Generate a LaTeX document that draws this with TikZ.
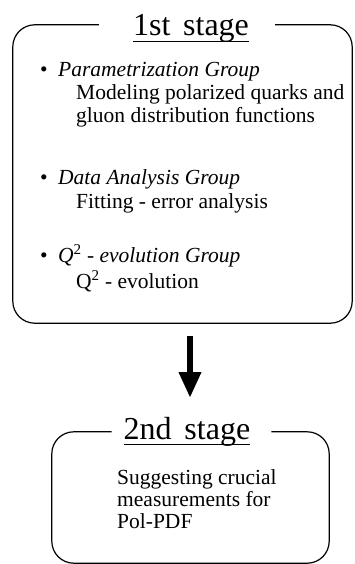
\documentclass[tikz,border=0pt]{standalone}
\usepackage{fontspec}
\setmainfont{Liberation Serif}
\usetikzlibrary{arrows.meta}
\begin{document}
\begin{tikzpicture}[x=1pt,y=-1pt,
  body/.style={anchor=base west, inner sep=0pt, font=\fontsize{21.5}{23}\selectfont},
  ttl/.style={anchor=base, inner sep=0pt, font=\fontsize{32}{36}\selectfont},
  frame/.style={line width=1.2pt, rounded corners=22pt},
  uline/.style={line width=1pt},
  bigarrow/.style={line width=6.5pt, -{Triangle[width=21pt,length=26pt]}}]
\useasboundingbox (0,0) rectangle (354,564);
% box outlines (invisible nodes)
\node[inner sep=0pt, minimum width=339pt, minimum height=298pt] (box1) at (182.5,174) {};
\node[inner sep=0pt, minimum width=277pt, minimum height=131pt] (box2) at (190.5,497.5) {};
% titles
\node[ttl] (t1) at (191,36) {1st\hspace{0.4em}stage};
\node[ttl] (t2) at (187,439) {2nd\hspace{0.4em}stage};
\draw[uline] ([yshift=-6pt]t1.base west) -- ([yshift=-6pt]t1.base east);
\draw[uline] ([yshift=-5pt]t2.base west) -- ([yshift=-5pt]t2.base east);
% frames with gaps for the titles
\draw[frame] ([xshift=-34pt]t1.west |- box1.north) -- (box1.north west) -- (box1.south west)
  -- (box1.south east) -- (box1.north east) -- ([xshift=26pt]t1.east |- box1.north);
\draw[frame] ([xshift=-12pt]t2.west |- box2.north) -- (box2.north west) -- (box2.south west)
  -- (box2.south east) -- (box2.north east) -- ([xshift=21pt]t2.east |- box2.north);
% first stage content
\node[body] (d1) at (40,77) {•};
\node[body] (g1) at (58,77) {\itshape Parametrization Group};
\node[body] (l1) at (76,100) {Modeling polarized quarks and};
\node[body] (l2) at (76,123) {gluon distribution functions};
\node[body] (d2) at (40,184) {•};
\node[body] (g2) at (58,184) {\itshape Data Analysis Group};
\node[body] (l3) at (76,208) {Fitting - error analysis};
\node[body] (d3) at (40,262) {•};
\node[body] (g3) at (58,262) {\itshape Q\textsuperscript{\upshape 2} - evolution Group};
\node[body] (l4) at (76,288) {Q\textsuperscript{2} - evolution};
% second stage content
\node[body] (s1) at (117,484) {Suggesting crucial};
\node[body] (s2) at (117,506) {measurements for};
\node[body] (s3) at (117,528) {Pol-PDF};
% arrow
\coordinate (arrtop) at (190,336);
\coordinate (arrtip) at (190,398);
\draw[bigarrow] (arrtop) -- (arrtip);
\end{tikzpicture}
\end{document}
